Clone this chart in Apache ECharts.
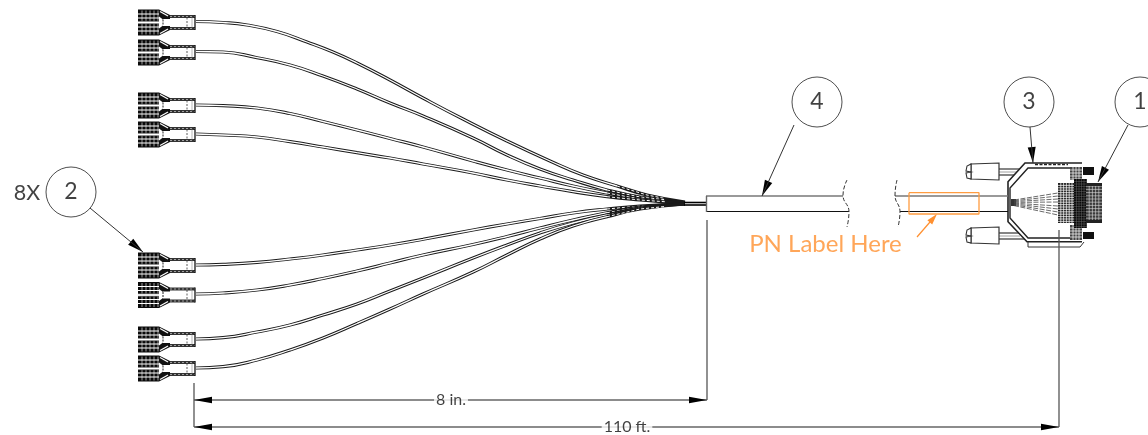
<!DOCTYPE html>
<html><head><meta charset="utf-8">
<style>html,body{margin:0;padding:0;background:#fff}#c{width:1148px;height:435px}</style>
<script src="https://cdn.jsdelivr.net/npm/echarts@6/dist/echarts.min.js"></script>
</head><body><div id="c"></div>
<script>
// ---- wires: [x, y] in drawing units
const wire1=[[196,21.5],[223,22.5],[247,25],[277,31.5],[307,42],[333,52],[357,63],[390,80],[423,98],[463,119],[507,141],[550,161],[583,175],[617,186],[647,195],[685,202]];
const wire2=[[196,51.5],[223,52],[257,57.7],[290,65],[323,76],[357,89],[390,103],[423,116],[473,138],[507,155],[540,169],[573,180],[607,190],[640,197],[685,202.5]];
const wire3=[[196,105],[223,105.7],[257,108],[290,113.5],[323,121.5],[357,130],[390,138.5],[423,147],[473,161],[507,170],[540,178],[573,186],[607,193],[640,199],[685,203]];
const wire4=[[196,134],[223,135],[257,137],[290,141.7],[323,147],[357,152.7],[390,158],[423,164],[473,173],[507,180],[540,186],[573,191.7],[607,196.7],[640,200],[685,203.5]];
const wire5=[[196,265],[223,264.3],[257,262.3],[290,259],[323,255],[357,250],[390,245],[423,239.3],[473,230],[507,224],[540,218.5],[573,213],[607,209],[640,206],[685,204]];
const wire6=[[196,294],[223,293],[257,290],[290,285],[323,278.5],[357,271],[390,263],[423,255],[473,244.5],[507,236.5],[540,228],[573,220],[607,212.7],[640,207],[685,204]];
const wire7=[[196,339],[223,337.7],[257,332],[290,325],[323,315],[357,304],[390,291],[423,278],[473,258],[507,245],[540,233],[573,223],[607,215],[640,208],[685,204]];
const wire8=[[196,368],[223,366.7],[257,360],[290,350],[323,338],[357,323.5],[390,309],[423,294],[473,272],[507,255],[540,239],[573,226],[607,216.7],[640,209],[685,204]];
const wires=[wire1,wire2,wire3,wire4,wire5,wire6,wire7,wire8];
const terminalY=[22.5,52.5,105.5,134.5,265.5,295,339.5,368.5];
const balloonX=[71,817,1029,1140];
const balloonY=[192,102,102,102];
const balloonText=['2','4','3','1'];
const leaders=[[[90,208],[143,252]],[[794,125],[762,196]],[[1030,127],[1033,163]],[[1128,125],[1098,182]]];
const fanY=[193,196,199,202,206,209,212,215];
const dims=[{y:400,x0:194,x1:707,text:'8 in.',tx:451},{y:427,x0:194,x1:1059,text:'110 ft.',tx:627}];
const ext=[[[194,383],[194,427]],[[707,220],[707,400]],[[1059,230],[1059,427]]];

const line=(name,pts,color,width,extra)=>Object.assign({type:'line',name,data:pts,symbol:'none',silent:true,clip:false,
  lineStyle:{color,width,type:'solid',cap:'butt'}},extra||{});
const dashed=(name,pts,color,width)=>{const s=line(name,pts,color,width);s.lineStyle.type=[4,2];return s;};

function shapes(name,list){
  return {type:'custom',name,silent:true,clip:false,data:[0],encode:{x:[],y:[]},
    renderItem(p,api){
      const c=pt=>api.coord(pt);
      return {type:'group',children:list.map(s=>({
        type:s.fill?'polygon':'polyline',
        shape:{points:s.pts.map(c)},
        style:{fill:s.fill||null,stroke:s.stroke||null,lineWidth:s.w||0,lineDash:s.dash||null}
      }))};
    }};
}
const rect=(x0,y0,x1,y1,fill,stroke,w)=>({pts:[[x0,y0],[x1,y0],[x1,y1],[x0,y1]],fill,stroke,w});
const seg=(a,b,stroke,w,dash)=>({pts:[a,b],stroke,w,dash});
function hatch(x0,y0,x1,y1,dx,dy,fill,w,col){
  const out=[rect(x0,y0,x1,y1,fill)];
  for(let x=x0+dx;x<x1;x+=dx)out.push(seg([x,y0],[x,y1],col||'#fff',w));
  for(let y=y0+dy;y<y1;y+=dy)out.push(seg([x0,y],[x1,y],col||'#fff',w));
  return out;
}
function terminal(c){
  const a=[];
  a.push(rect(138,c-13,159,c+13,'#0a0a0a'));
  [142,146,150,154,158].forEach(x=>a.push(seg([x,c-12],[x,c+12],'#ddd',0.7)));
  [-8.5,-4.5,4.5,8.5].forEach(d=>a.push(seg([138,c+d],[159,c+d],'#fff',1)));
  a.push(rect(138,c-1.3,159,c+1.3,'#fff'));
  [-1.3,1.3].forEach(d=>a.push(seg([138,c+d],[159,c+d],'#333',0.6)));
  a.push({pts:[[159,c-13],[170,c-7.5],[170,c-2.5],[163,c-3],[159,c-6]],fill:'#111'});
  a.push({pts:[[159,c+13],[170,c+7.5],[170,c+2.5],[163,c+3],[159,c+6]],fill:'#111'});
  a.push({pts:[[160,c-11],[168,c-6.5]],stroke:'#fff',w:1.2});
  a.push({pts:[[160,c+11],[168,c+6.5]],stroke:'#fff',w:1.2});
  a.push(rect(163,c-3.5,171,c+3.5,'#fff'));
  a.push(rect(170,c-5,195,c+5,'#fff'));
  a.push(rect(170,c-7.5,195,c-4.5,'#333'));
  a.push(rect(170,c+4.5,195,c+7.5,'#333'));
  a.push(seg([170,c-6],[195,c-6],'#bbb',0.8,[2,2]));
  a.push(seg([170,c+6],[195,c+6],'#bbb',0.8,[2,2]));
  a.push(seg([195,c-7.5],[195,c+7.5],'#111',1.3));
  a.push(seg([187,c-5],[187,c+5],'#333',0.8,[2,1.5]));
  a.push(seg([163,c-3],[163,c+3],'#222',1,[2,1]));
  a.push(seg([192,c-5],[192,c+5],'#999',0.7));
  return a;
}
function arrow(tip,from,len,half,fill){
  const dx=from[0]-tip[0],dy=from[1]-tip[1],n=Math.hypot(dx,dy),ux=dx/n,uy=dy/n;
  const bx=tip[0]+ux*len,by=tip[1]+uy*len;
  return {pts:[tip,[bx-uy*half,by+ux*half],[bx+uy*half,by-ux*half]],fill};
}
function screw(y0){
  const a=[];
  a.push(rect(999,y0+6,1026,y0+12,'#fff'));
  a.push(seg([999,y0+6],[1026,y0+6],'#222',1.1));
  a.push(seg([999,y0+12],[1026,y0+12],'#222',1.1));
  a.push(seg([999,y0+9],[1020,y0+9],'#888',0.8));
  a.push({pts:[[971,y0+1],[999,y0],[999,y0+17],[971,y0+16]],fill:'#fff',stroke:'#333',w:1.2});
  a.push({pts:[[971,y0+1],[967,y0+3],[966,y0+8],[971,y0+9],[966,y0+10],[967,y0+15],[971,y0+16]],fill:'#fff',stroke:'#333',w:1.1});
  return a;
}

const series=[];
wires.forEach((w,i)=>{
  series.push(line('wire'+(i+1),w,'#1a1a1a',3.2,{smooth:0.5,z:2}));
  series.push(line('wireCore'+(i+1),w.slice(0,-2),'#fff',1.3,{smooth:0.5,z:2}));
  series.push(Object.assign(line('wireTail'+(i+1),w.slice(-3,-1).concat([[665,(w[w.length-2][1]+w[w.length-1][1])/2]]),'#fff',1,{z:2}),{}));
  series[series.length-1].lineStyle.type=[3,2];
});
series.push(line('breakout a',[[684,202.5],[707,202.5]],'#000',1.6,{z:3}));
series.push(line('breakout b',[[684,205],[707,205]],'#000',1.6,{z:3}));
series.push(line('cable top L',[[706,196],[843,196]],'#777',1.6,{z:3}));
series.push(line('cable bot L',[[706,211.5],[849,211.5]],'#111',1.2,{z:3}));
series.push(line('cable end',[[706.5,196],[706.5,212]],'#666',1.4,{z:3}));
series.push(line('cable top R',[[895,196],[1008,196]],'#777',1.4,{z:3}));
series.push(line('cable bot R',[[900,211.5],[1008,211.5]],'#111',1.2,{z:3}));
series.push(dashed('break L',[[847,180],[843,195],[849,212],[847,227]],'#333',1));
series[series.length-1].smooth=0.5;
series.push(dashed('break R',[[897,180],[895,195],[900,212],[898,227]],'#333',1));
series[series.length-1].smooth=0.5;
terminalY.forEach((c,i)=>series.push(shapes('terminal'+(i+1),terminal(c))));
dims.forEach((d,i)=>{
  series.push(line('dim'+i,[[d.x0,d.y],[d.x1,d.y]],'#666',1.4,{z:3}));
  series.push(Object.assign(shapes('dimArrows'+i,[arrow([d.x0,d.y],[d.x1,d.y],18,3.2,'#000'),arrow([d.x1,d.y],[d.x0,d.y],18,3.2,'#000')]),{z:4}));
});
series.push(line('pn box',[[909,192.7],[979,192.7],[979,214],[909,214],[909,192.7]],'#ff9c40',1.3,{z:4}));
series.push(line('pn leader',[[917,237],[930,222]],'#ff9030',1.2,{z:4}));
series.push(Object.assign(shapes('pn head',[arrow([937,214],[917,237],11,3.2,'#ff9030')]),{z:4}));
const conn=[];
conn.push(...screw(163),...screw(227));
conn.push({pts:[[1027,241.7],[1008,221.7],[1008,181.7],[1025,163],[1083,163],[1083,241.7]],fill:'#fff'});
conn.push({pts:[[1082,163],[1025,163],[1008,181.7],[1008,221.7],[1027,241.7],[1082,241.7]],stroke:'#222',w:1.6});
conn.push({pts:[[1070,168],[1028,168],[1010,188],[1010,218],[1028,238],[1070,238]],stroke:'#222',w:1.4});
conn.push({pts:[[1028,242],[1028,247],[1080,247],[1084,242]],stroke:'#333',w:1});
conn.push(seg([1035,164.5],[1068,164.5],'#222',1.3,[3,1.5]));
conn.push(rect(1011,199,1016,206,'#333'));
fanY.forEach((y,i)=>conn.push(seg([1014,200+i*0.8],[1058,y],'#444',0.8,[5,1.5])));
conn.push(...hatch(1070,167,1082,180,3,3,'#444',0.7));
conn.push(...hatch(1070,225,1082,240,3,3,'#444',0.7));
conn.push(...hatch(1058,183,1074,223,2.8,2.4,'#222',0.7));
conn.push(...hatch(1074,179,1087,228,2.5,2.5,'#0a0a0a',0.4,'#777'));
conn.push(...hatch(1086,183,1102,223,3.2,3.2,'#3a3a3a',0.6,'#ddd'));
conn.push(rect(1083,167,1094,175,'#111'));
conn.push(rect(1083,232,1094,239,'#111'));
conn.push(rect(1086,183,1102,186,'#222'));
conn.push(rect(1086,220,1102,223,'#222'));
series.push(shapes('connector',conn));
ext.forEach((e,i)=>series.push(line('ext'+i,e,'#555',1.3,{z:3})));
leaders.forEach((l,i)=>{
  series.push(line('leader'+i,l,'#333',1,{z:5}));
  series.push(Object.assign(shapes('head'+i,[arrow(l[1],l[0],16,4,'#000')]),{z:5}));
});
series.push({type:'scatter',name:'balloons',silent:true,clip:false,z:6,symbol:'circle',symbolSize:50,
  data:balloonX.map((x,i)=>[x,balloonY[i],balloonText[i]]),
  itemStyle:{color:'#fff',borderColor:'#222',borderWidth:1},
  label:{show:true,position:'inside',formatter:p=>p.value[2],color:'#111',fontFamily:'Lato',fontSize:23}});
const txt=(name,x,y,text,size,color,bg)=>({type:'scatter',name,silent:true,clip:false,z:7,symbolSize:1,
  data:[[x,y,text]],itemStyle:{color:'transparent'},
  label:{show:true,position:'inside',formatter:p=>p.value[2],color,fontFamily:'Lato',fontSize:size,
    backgroundColor:bg||'transparent',padding:bg?[1,2]:0}});
series.push(txt('times',27,193,'8X',21.5,'#111'));
series.push(txt('pn label',825.5,244,'PN Label Here',24,'#ff9030'));
dims.forEach((d,i)=>series.push(txt('dimText'+i,d.tx,d.y,d.text,16,'#111','#fff')));

const chart=echarts.init(document.getElementById('c'),null,{renderer:'canvas'});
chart.setOption({animation:false,backgroundColor:'#fff',tooltip:{show:false},legend:{show:false},
  grid:{left:0,right:0,top:0,bottom:0},
  xAxis:{type:'value',min:0,max:1148,show:false},
  yAxis:{type:'value',min:0,max:435,inverse:true,show:false},
  series});
</script></body></html>
